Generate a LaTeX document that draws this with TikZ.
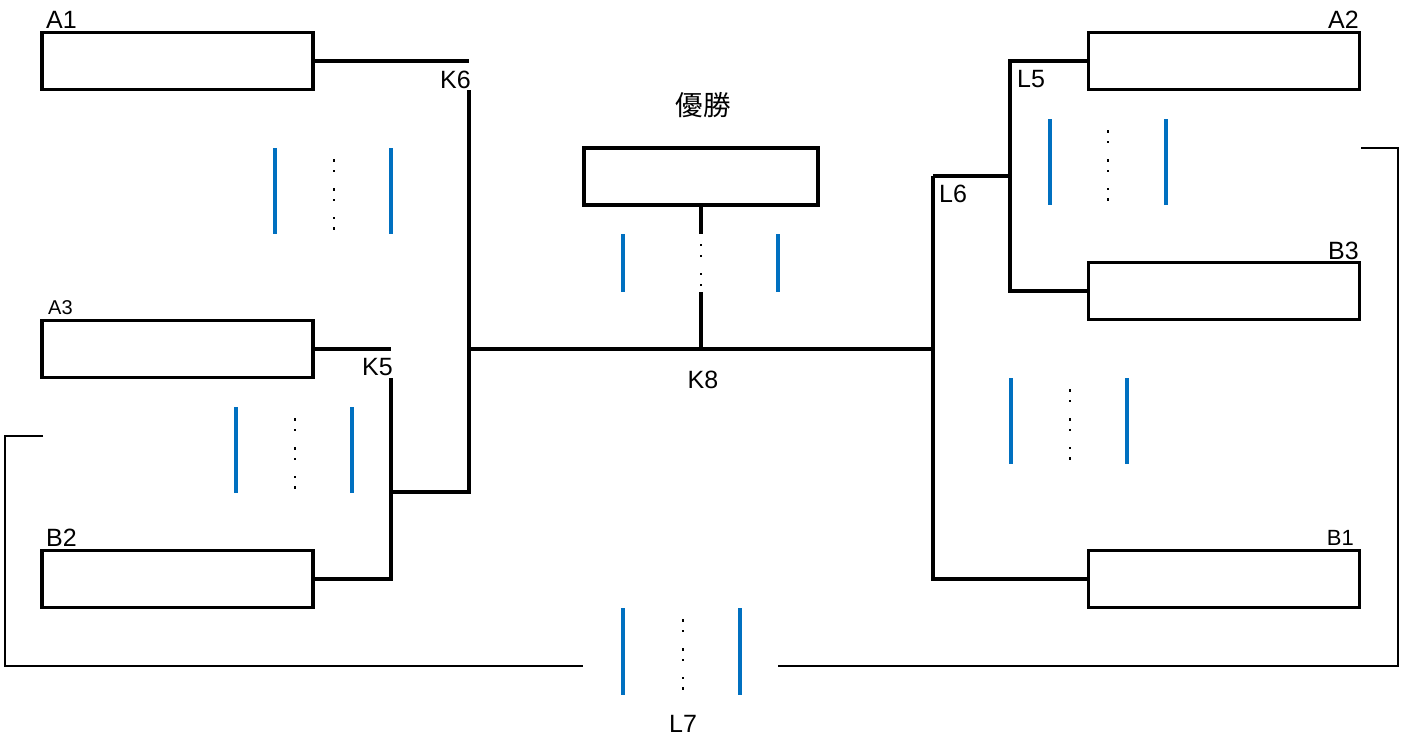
\documentclass[tikz,border=0pt]{standalone}
\usepackage{fontspec}
\setmainfont{Liberation Sans}
\newfontfamily\cjk{Noto Sans CJK JP}
\definecolor{barblue}{HTML}{0070C0}
\begin{document}
\begin{tikzpicture}[x=1pt,y=-1pt,
  box/.style={draw,line width=3.2pt,minimum width=271pt,minimum height=57pt,inner sep=0pt},
  conn/.style={line width=3.2pt},
  frameline/.style={line width=1.4pt},
  bluebar/.style={draw=barblue,line width=3.2pt},
  lbl/.style={font=\fontsize{25}{25}\selectfont,inner sep=0pt},
  slbl/.style={font=\fontsize{20}{20}\selectfont,inner sep=0pt},
  mlbl/.style={font=\fontsize{22}{22}\selectfont,inner sep=0pt}]
\useasboundingbox (0,0) rectangle (1402,736);
% boxes
\node[box] (A1) at (177.5,61) {};
\node[box] (A3) at (177.5,349) {};
\node[box] (B2) at (177.5,579) {};
\node[box,minimum width=234pt] (win) at (701,176.5) {};
\node[box] (A2) at (1224,61) {};
\node[box] (B3) at (1224,291) {};
\node[box] (B1) at (1224,579) {};
% labels
\node[lbl,anchor=base west] (lA1) at (46,28) {A1};
\node[slbl,anchor=base west] (lA3) at (48,314) {A3};
\node[lbl,anchor=base west] (lB2) at (46,546) {B2};
\node[lbl,anchor=base east] (lK6) at (471,88) {K6};
\node[lbl,anchor=base east] (lK5) at (393,375) {K5};
\node[lbl,anchor=base] (lK8) at (703,388) {K8};
\node[lbl,font=\fontsize{27.5}{27.5}\selectfont] (lwin) at (703,105) {\cjk 優勝};
\node[lbl,anchor=base west] (lL6) at (939,202) {L6};
\node[lbl,anchor=base west] (lL5) at (1017,87) {L5};
\node[lbl,anchor=base east] (lA2) at (1359,28) {A2};
\node[lbl,anchor=base east] (lB3) at (1359,259) {B3};
\node[mlbl,anchor=base east] (lB1) at (1354,545) {B1};
\node[lbl,anchor=base] (lL7) at (683,732) {L7};
% junction coordinates
\coordinate (k6t) at (469,61);
\coordinate (k6v) at (469,90);
\coordinate (k6m) at (469,349);
\coordinate (k6b) at (469,492);
\coordinate (k5t) at (391,349);
\coordinate (k5v) at (391,378);
\coordinate (k5m) at (391,492);
\coordinate (k5b) at (391,579);
\coordinate (wv1) at (701,234);
\coordinate (wv2) at (701,292);
\coordinate (k8) at (701,349);
\coordinate (l6m) at (933,349);
\coordinate (l6t) at (933,176);
\coordinate (l6b) at (933,579);
\coordinate (l5m) at (1010,176);
\coordinate (l5t) at (1010,61);
\coordinate (l5b) at (1010,291);
% left bracket
\coordinate (fl1) at (43,436);
\coordinate (fl2) at (5,436);
\coordinate (fl3) at (5,666);
\coordinate (fl4) at (583,666);
% right bracket
\coordinate (fr1) at (1361,148);
\coordinate (fr2) at (1398,148);
\coordinate (fr3) at (1398,666);
\coordinate (fr4) at (778,666);
% connectors
\draw[conn] (A1.east) -- (k6t);
\draw[conn] (k6v) -- (k6b) -- (k5m);
\draw[conn] (A3.east) -- (k5t);
\draw[conn] (k5v) -- (k5b) -- (B2.east);
\draw[conn] (k6m) -- (k8) -- (l6m);
\draw[conn] (win.south) -- (wv1);
\draw[conn] (wv2) -- (k8);
\draw[conn] (l6t) -- (l6b) -- (B1.west);
\draw[conn] (l6t) -- (l5m);
\draw[conn] (A2.west) -- (l5t) -- (l5b) -- (B3.west);
\draw[frameline] (fl1) -- (fl2) -- (fl3) -- (fl4);
\draw[frameline] (fr1) -- (fr2) -- (fr3) -- (fr4);
% blue bars and dots
\foreach \xa/\xb/\xd/\ya/\yb in {275/391/334/148/234, 236/352/295/407/493, 1050/1166/1108/119/205, 1011/1127/1070/378/464, 623/740/683/608/695}{
  \draw[bluebar] (\xa,\ya) -- (\xa,\yb);
  \draw[bluebar] (\xb,\ya) -- (\xb,\yb);
  \foreach \dy in {12.5,23,41.5,52,70,80.5}{
    \fill (\xd-1.3,\ya+\dy-1.3) rectangle ++(2.6,2.6);
  }
}
\draw[bluebar] (623,234) -- (623,292);
\draw[bluebar] (778,234) -- (778,292);
\foreach \dy in {245,256,274,285}{
  \fill (701-1.3,\dy-1.3) rectangle ++(2.6,2.6);
}
\end{tikzpicture}
\end{document}
